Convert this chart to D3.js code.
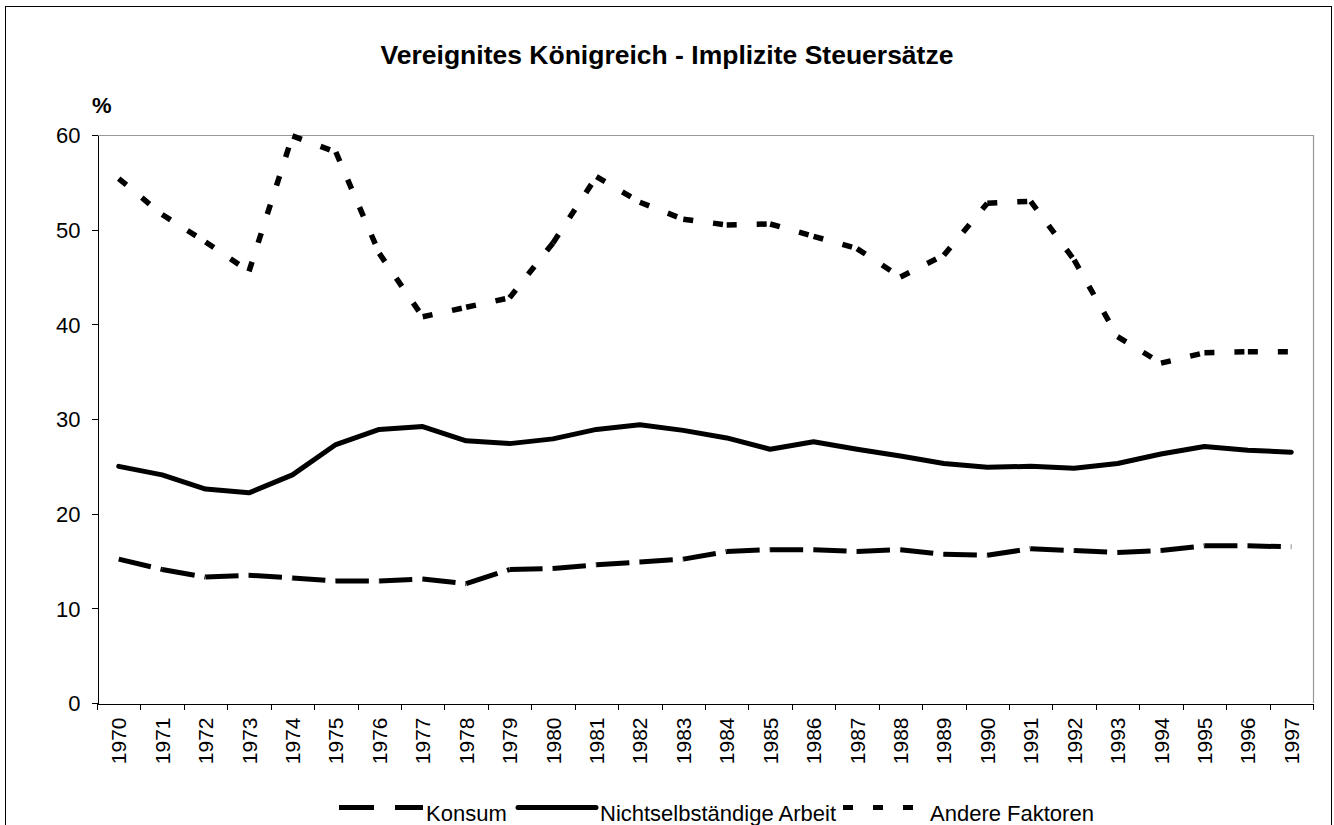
<!DOCTYPE html>
<html lang="de">
<head>
<meta charset="UTF-8">
<title>Vereignites Königreich - Implizite Steuersätze</title>
<style>
body {
  margin: 0;
  background-color: #fff;
}
#graph {
  width: 1334px;
  height: 825px;
  overflow: hidden;
}
.chart text {
  font-family: Arial, "Liberation Sans", sans-serif;
  fill: #000;
}
.axis path,
.axis line {
  fill: none;
  stroke: #000;
  shape-rendering: crispEdges;
}
.y.axis text {
  font-size: 22px;
}
.x.axis text {
  font-size: 21px;
}
</style>
</head>
<body>
<div id="graph">
  <svg class="chart"></svg>
</div>

<script src="https://d3js.org/d3.v7.min.js"></script>
<script>
var years = ["1970", "1971", "1972", "1973", "1974", "1975", "1976", "1977", "1978", "1979",
  "1980", "1981", "1982", "1983", "1984", "1985", "1986", "1987", "1988", "1989",
  "1990", "1991", "1992", "1993", "1994", "1995", "1996", "1997"];

var konsum = [15.2, 14.1, 13.3, 13.5, 13.2, 12.9, 12.9, 13.1, 12.6, 14.1,
  14.2, 14.6, 14.9, 15.2, 16.0, 16.2, 16.2, 16.0, 16.2, 15.7,
  15.6, 16.3, 16.1, 15.9, 16.1, 16.6, 16.6, 16.5];

var arbeit = [25.0, 24.1, 22.6, 22.2, 24.1, 27.3, 28.9, 29.2, 27.7, 27.4,
  27.9, 28.9, 29.4, 28.8, 28.0, 26.8, 27.6, 26.8, 26.1, 25.3,
  24.9, 25.0, 24.8, 25.3, 26.3, 27.1, 26.7, 26.5];

var andere = [55.4, 51.6, 48.7, 45.6, 59.9, 58.2, 47.5, 40.8, 41.8, 42.8,
  48.6, 55.6, 52.9, 51.1, 50.5, 50.6, 49.3, 48.0, 45.0, 47.3,
  52.8, 53.0, 46.8, 38.7, 35.9, 37.0, 37.1, 37.1];

var yTicks = [0, 10, 20, 30, 40, 50, 60];

var seriesNames = ["Konsum", "Nichtselbständige Arbeit", "Andere Faktoren"];

var totalWidth = 1334,
  totalHeight = 825;

var plot = {left: 97, right: 1313, top: 135, bottom: 703};

var svg = d3.select(".chart")
  .attr("width", totalWidth)
  .attr("height", totalHeight);

// outer frame (bottom edge is below the visible area)
svg.append("rect")
  .attr("x", 5.5)
  .attr("y", 6.5)
  .attr("width", 1326)
  .attr("height", 840)
  .attr("fill", "#fff")
  .attr("stroke", "#000")
  .attr("stroke-width", 1);

var x = d3.scaleBand()
  .domain(years)
  .range([plot.left, plot.right])
  .padding(0);

var xEdge = d3.scaleLinear()
  .domain([0, years.length])
  .range([plot.left, plot.right]);

var y = d3.scaleLinear()
  .domain([0, 60])
  .range([plot.bottom, plot.top]);

function cx(i) {
  return x(years[i]) + x.bandwidth() / 2;
}

// plot area border, top and right are grey
svg.append("path")
  .attr("d", "M" + plot.left + "," + (plot.top + 0.5) + "H" + (plot.right + 0.5) + "V" + plot.bottom)
  .attr("fill", "none")
  .attr("stroke", "#999")
  .attr("stroke-width", 1.2);

// y axis
svg.append("g")
  .attr("class", "y axis")
  .attr("transform", "translate(" + (plot.left + 0.5) + ",0)")
  .call(d3.axisLeft(y).tickValues(yTicks).tickSize(6).tickPadding(11).tickSizeOuter(0))
  .selectAll("text")
  .attr("dy", "0.36em");

// x axis: ticks between the categories
svg.append("g")
  .attr("class", "x axis")
  .attr("transform", "translate(0," + (plot.bottom + 0.5) + ")")
  .call(d3.axisBottom(xEdge).tickValues(d3.range(years.length + 1)).tickFormat("").tickSize(6).tickSizeOuter(0));

svg.append("g")
  .attr("class", "x axis")
  .attr("transform", "translate(0," + (plot.bottom + 0.5) + ")")
  .call(d3.axisBottom(x).tickSize(0).tickPadding(0))
  .call(function(g) { g.select(".domain").remove(); })
  .selectAll("text")
  .attr("transform", "rotate(-90)")
  .attr("text-anchor", "end")
  .attr("x", -14)
  .attr("y", 0)
  .attr("dy", "0.36em");

// lines; dash pattern restarts at every data point like the original
var line = d3.line()
  .x(function(d) { return cx(d.i); })
  .y(function(d) { return y(d.v); });

function segments(values) {
  var segs = [];
  for (var i = 0; i < values.length - 1; i++) {
    segs.push([{i: i, v: values[i]}, {i: i + 1, v: values[i + 1]}]);
  }
  return segs;
}

var lines = svg.append("g");

lines.selectAll(".konsum")
  .data(segments(konsum))
  .enter().append("path")
  .attr("class", "konsum")
  .attr("d", line)
  .attr("fill", "none")
  .attr("stroke", "#000")
  .attr("stroke-width", 5)
  .attr("stroke-dasharray", "33,10");

lines.append("path")
  .datum(arbeit.map(function(v, i) { return {i: i, v: v}; }))
  .attr("d", line)
  .attr("fill", "none")
  .attr("stroke", "#000")
  .attr("stroke-width", 5)
  .attr("stroke-linejoin", "round")
  .attr("stroke-linecap", "round");

lines.selectAll(".andere")
  .data(segments(andere))
  .enter().append("path")
  .attr("class", "andere")
  .attr("d", line)
  .attr("fill", "none")
  .attr("stroke", "#000")
  .attr("stroke-width", 5.5)
  .attr("stroke-dasharray", "10,20");

// title and unit
svg.append("text")
  .attr("x", 667)
  .attr("y", 64)
  .attr("text-anchor", "middle")
  .style("font-size", "26.5px")
  .style("font-weight", "bold")
  .text("Vereignites Königreich - Implizite Steuersätze");

svg.append("text")
  .attr("x", 92)
  .attr("y", 113)
  .style("font-size", "22px")
  .style("font-weight", "bold")
  .text("%");

// legend
var legendY = 807.5;
var legend = [
  {name: seriesNames[0], x1: 339, x2: 423, tx: 426, dash: "35,21", cap: "butt"},
  {name: seriesNames[1], x1: 518, x2: 596, tx: 600, dash: null, cap: "round"},
  {name: seriesNames[2], x1: 843, x2: 914, tx: 930, dash: "10,20", cap: "butt"}
];

var lg = svg.append("g").selectAll("g")
  .data(legend)
  .enter().append("g");

lg.append("line")
  .attr("x1", function(d) { return d.x1; })
  .attr("x2", function(d) { return d.x2; })
  .attr("y1", legendY)
  .attr("y2", legendY)
  .attr("stroke", "#000")
  .attr("stroke-width", 5)
  .attr("stroke-linecap", function(d) { return d.cap; })
  .attr("stroke-dasharray", function(d) { return d.dash; });

lg.append("text")
  .attr("x", function(d) { return d.tx; })
  .attr("y", 821)
  .style("font-size", "22px")
  .text(function(d) { return d.name; });
</script>
</body>
</html>
